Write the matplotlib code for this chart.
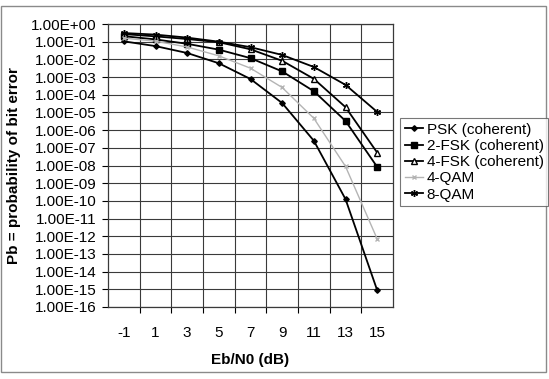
import matplotlib.pyplot as plt
import matplotlib.patches as mpatches
import matplotlib.ticker as mticker
import numpy as np

plt.rcParams['font.family'] = ['Liberation Sans', 'DejaVu Sans']

ebn0 = ['-1', '1', '3', '5', '7', '9', '11', '13', '15']

# log10 of bit error probability
psk = [-0.98, -1.25, -1.64, -2.22, -3.11, -4.47, -6.6, -9.9, -15.05]
fsk2 = [-0.69, -0.87, -1.12, -1.45, -1.93, -2.68, -3.8, -5.48, -8.08]
fsk4 = [-0.57, -0.7, -0.85, -1.03, -1.43, -2.08, -3.1, -4.7, -7.27]
qam4 = [-0.8, -0.97, -1.3, -1.8, -2.5, -3.59, -5.33, -8.05, -12.15]
qam8 = [-0.51, -0.6, -0.77, -1.0, -1.31, -1.75, -2.43, -3.44, -4.97]

labels = ['PSK (coherent)', '2-FSK (coherent)', '4-FSK (coherent)',
          '4-QAM', '8-QAM']


def main() -> None:
    fig = plt.figure(figsize=(5.49, 3.79), dpi=100)
    ax = fig.add_axes([108 / 549, 1 - 307 / 379, 285 / 549, 283 / 379])

    x = np.arange(len(ebn0))
    styles = [
        dict(color='black', marker='D', ms=2.8, mfc='black', lw=1.3),
        dict(color='black', marker='s', ms=3.8, mfc='black', lw=1.3),
        dict(color='black', marker='^', ms=4.2, mfc='white', lw=1.3),
        dict(color='#b4b4b4', marker='x', ms=3.5, mew=1, lw=1.0),
        dict(color='black', marker=(6, 2, 0), ms=5, mew=1, lw=1.3),
    ]
    for vals, lab, st in zip([psk, fsk2, fsk4, qam4, qam8], labels, styles):
        ax.plot(x, 10.0 ** np.array(vals), label=lab, **st)

    ax.set_yscale('log')
    ax.set_ylim(1e-16, 1e0)
    ax.set_xlim(-0.5, len(ebn0) - 0.5)
    ax.yaxis.set_major_locator(mticker.LogLocator(base=10, numticks=20))
    ax.yaxis.set_minor_locator(mticker.NullLocator())
    ax.yaxis.set_major_formatter(mticker.FuncFormatter(lambda v, p: f"{v:.2E}"))

    ax.set_xticks(x)
    ax.set_xticklabels(ebn0)
    ax.set_xticks(np.arange(0.5, len(ebn0) - 1, 1.0), minor=True)

    ax.grid(True, which='major', axis='y', color='#3a3a3a', lw=0.8)
    ax.grid(True, which='minor', axis='x', color='#3a3a3a', lw=0.8)
    ax.tick_params(axis='y', which='major', length=4, width=0.8,
                   labelsize=11, pad=4)
    ax.tick_params(axis='x', which='major', length=0, labelsize=11, pad=14)
    ax.tick_params(axis='x', which='minor', length=4, width=0.8)
    for s in ax.spines.values():
        s.set_color('#3a3a3a')
        s.set_linewidth(0.9)

    ax.set_xlabel('Eb/N0 (dB)', fontsize=11, fontweight='bold')
    ax.xaxis.set_label_coords(0.5, -(353 - 307) / 283)
    ax.set_ylabel('Pb = probability of bit error', fontsize=11,
                  fontweight='bold')
    ax.yaxis.set_label_coords(-(108 - 21) / 285, 0.5)

    leg = fig.legend(loc='upper left', bbox_to_anchor=(400 / 549, 1 - 118 / 379),
                     fontsize=11, frameon=True, fancybox=False,
                     handlelength=1.2, handletextpad=0.25, labelspacing=0.15,
                     borderpad=0.3, borderaxespad=0)
    leg.get_frame().set_edgecolor('#555555')
    leg.get_frame().set_linewidth(0.8)

    border = mpatches.Rectangle((1 / 549, 1 - 372 / 379), 545 / 549, 366 / 379,
                                transform=fig.transFigure, fill=False,
                                edgecolor='#8a8a8a', lw=1.0)
    fig.patches.append(border)

    fig.savefig('out.png', dpi=100)


if __name__ == '__main__':
    main()
